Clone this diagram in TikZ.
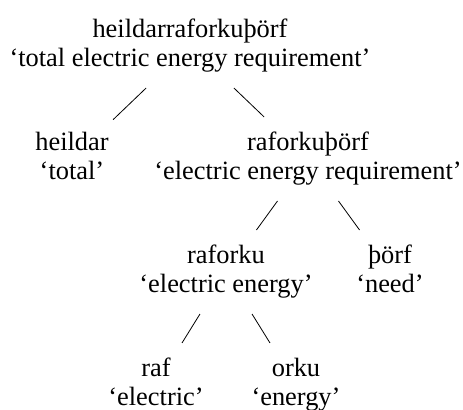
\documentclass[tikz,border=0pt]{standalone}
\usepackage{fontspec}
\setmainfont{Liberation Serif}
\usetikzlibrary{positioning}

\begin{document}
\begin{tikzpicture}[node distance=56.5pt and 59pt, on grid,
    every node/.style={align=center, inner xsep=2pt, inner ysep=6pt, font=\fontsize{13.2}{14.8}\selectfont}]
    \useasboundingbox (0,0) rectangle (231.5pt,-205pt);
    % Nodes
    \node (whole) at (95pt,-23pt) {\strut heildarraforkuþörf\\\strut ‘total electric energy requirement’};
    \node (heildar) [below left=of whole] {\strut heildar\\\strut ‘total’};
    \node (raforkuthorf) [below right=of whole] {\strut raforkuþörf\\\strut ‘electric energy requirement’};
    \node (raforku) [below left=56.5pt and 41pt of raforkuthorf] {\strut raforku\\\strut ‘electric energy’};
    \node (thorf) [below right=56.5pt and 41pt of raforkuthorf] {\strut þörf\\\strut ‘need’};
    \node (raf) [below left=56.5pt and 35pt of raforku] {\strut raf\\\strut ‘electric’};
    \node (orku) [below right=56.5pt and 35pt of raforku] {\strut orku\\\strut ‘energy’};

    % Lines
    \draw (whole) -- (heildar);
    \draw (whole) -- (raforkuthorf);
    \draw (raforkuthorf) -- (raforku);
    \draw (raforkuthorf) -- (thorf);
    \draw (raforku) -- (raf);
    \draw (raforku) -- (orku);
\end{tikzpicture}
\end{document}
